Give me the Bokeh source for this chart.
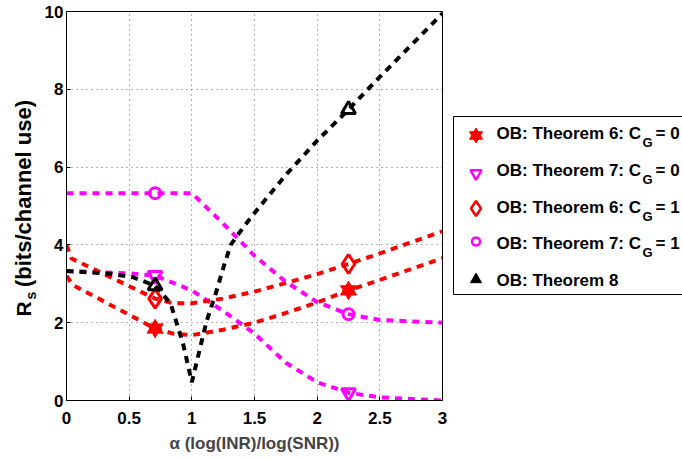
import math
from bokeh.plotting import figure
from bokeh.layouts import row
from bokeh.models import Range1d, FixedTicker
from bokeh.core.properties import value
from bokeh.embed import file_html
from bokeh.resources import INLINE

# ---------------- data ----------------
x_ticks = [0, 0.5, 1, 1.5, 2, 2.5, 3]
x_tick_labels = ["0", "0.5", "1", "1.5", "2", "2.5", "3"]
y_ticks = [0, 2, 4, 6, 8, 10]
y_tick_labels = ["0", "2", "4", "6", "8", "10"]

# OB: Theorem 6, C_G = 0
x6_0 = [0, 0.05, 0.707, 0.85, 1.0, 1.25, 1.5, 1.75, 2.0, 2.25, 2.5, 3.0]
y6_0 = [3.2, 2.97, 1.85, 1.72, 1.68, 1.82, 2.0, 2.25, 2.52, 2.83, 3.1, 3.66]
m6_0_x = [0.707, 2.25]
m6_0_y = [1.85, 2.83]

# OB: Theorem 7, C_G = 0
x7_0 = [0, 0.5, 0.707, 1.0, 1.25, 1.5, 1.75, 2.0, 2.25, 2.5, 3.0]
y7_0 = [3.33, 3.27, 3.21, 2.83, 2.3, 1.72, 0.97, 0.47, 0.2, 0.08, 0.0]
m7_0_x = [0.707, 2.25]
m7_0_y = [3.21, 0.2]

# OB: Theorem 6, C_G = 1
x6_1 = [0, 0.04, 0.707, 0.85, 1.0, 1.25, 1.5, 1.75, 2.0, 2.25, 2.5, 3.0]
y6_1 = [4.0, 3.65, 2.62, 2.5, 2.5, 2.62, 2.8, 3.02, 3.25, 3.51, 3.78, 4.35]
m6_1_x = [0.707, 2.25]
m6_1_y = [2.62, 3.51]

# OB: Theorem 7, C_G = 1
x7_1 = [0, 0.707, 1.0, 1.25, 1.5, 1.75, 2.0, 2.25, 2.5, 3.0]
y7_1 = [5.33, 5.33, 5.33, 4.55, 3.72, 3.05, 2.53, 2.22, 2.07, 2.0]
m7_1_x = [0.707, 2.25]
m7_1_y = [5.33, 2.22]

# OB: Theorem 8
x8 = [0, 0.35, 0.53, 0.707, 0.83, 0.93, 1.0, 1.07, 1.12, 1.19, 1.25, 1.31, 1.41, 1.5, 1.75, 2.0, 2.25, 2.5, 3.0]
y8 = [3.33, 3.26, 3.17, 2.95, 2.5, 1.46, 0.47, 1.41, 2.06, 2.74, 3.4, 4.0, 4.45, 4.82, 5.8, 6.68, 7.48, 8.32, 9.95]
m8_x = [0.707, 2.25]
m8_y = [2.95, 7.48]

legend_main = ["OB: Theorem 6: C", "OB: Theorem 7: C", "OB: Theorem 6: C", "OB: Theorem 7: C", "OB: Theorem 8"]
legend_sub = ["G", "G", "G", "G", ""]
legend_tail = ["= 0", "= 0", "= 1", "= 1", ""]

ylabel_parts = ["R", "s", "(bits/channel use)"]

FONT = "Liberation Sans"
RED = "#FF0000"
MAG = "#FF00FF"
BLK = "#000000"
DASH = "7 6"
LW = 4
H = 459
FTOP, FBOT = 11, 400   # frame top / bottom in page pixels (rows align plot frames)

# ---------------- y-label strip (pixel coordinates, y downward) ----------------
yl = figure(width=40, height=H, output_backend="svg", toolbar_location=None,
            x_range=Range1d(0, 40), y_range=Range1d(FBOT, FTOP),
            min_border=0, min_border_left=0, min_border_right=0, min_border_top=FTOP, min_border_bottom=H - FBOT)
yl.axis.visible = False
yl.grid.visible = False
yl.outline_line_color = None
yl.text(x=[22.5], y=[308.5], text=[ylabel_parts[0]], angle=math.pi / 2, text_font=value(FONT),
        text_font_style="bold", text_font_size="21px", text_align="center", text_baseline="middle",
        text_color="black")
yl.text(x=[30.5], y=[295], text=[ylabel_parts[1]], angle=math.pi / 2, text_font=value(FONT),
        text_font_style="bold", text_font_size="14px", text_align="center", text_baseline="middle",
        text_color="black")
yl.text(x=[23], y=[193], text=[ylabel_parts[2]], angle=math.pi / 2, text_font=value(FONT),
        text_font_style="bold", text_font_size="22px", text_align="center", text_baseline="middle",
        text_color="black")

# ---------------- main plot ----------------
p = figure(width=408, height=H, output_backend="svg", toolbar_location=None,
           x_range=Range1d(0, 3), y_range=Range1d(0, 10),
           min_border_left=26, min_border_right=6, min_border_top=FTOP, min_border_bottom=H - FBOT)
p.background_fill_color = "white"
p.outline_line_color = "black"
p.outline_line_width = 1

p.xaxis.ticker = FixedTicker(ticks=x_ticks)
p.yaxis.ticker = FixedTicker(ticks=y_ticks)
p.xaxis.major_label_overrides = {t: l for t, l in zip(x_ticks, x_tick_labels)}
p.yaxis.major_label_overrides = {t: l for t, l in zip(y_ticks, y_tick_labels)}
for ax in (p.xaxis[0], p.yaxis[0]):
    ax.axis_line_color = "black"
    ax.major_tick_in = 4
    ax.major_tick_out = 0
    ax.minor_tick_line_color = None
    ax.major_label_text_font = FONT
    ax.major_label_text_font_style = "bold"
    ax.major_label_text_font_size = "17px"
    ax.major_label_text_color = "black"
p.xaxis.major_label_standoff = 11
p.yaxis.major_label_standoff = 3
p.xaxis.axis_label = "\u03b1 (log(INR)/log(SNR))"
p.xaxis.axis_label_text_font = FONT
p.xaxis.axis_label_text_font_style = "bold"
p.xaxis.axis_label_text_font_size = "17px"
p.xaxis.axis_label_standoff = 7

for g in (p.xgrid[0], p.ygrid[0]):
    g.grid_line_color = "#666666"
    g.grid_line_dash = "1 4"
    g.grid_line_width = 1
p.ygrid.ticker = FixedTicker(ticks=y_ticks)
p.xgrid.ticker = FixedTicker(ticks=x_ticks)

# lines
p.line(x6_0, y6_0, line_color=RED, line_width=LW, line_dash=DASH)
p.line(x7_0, y7_0, line_color=MAG, line_width=LW, line_dash=DASH)
p.line(x6_1, y6_1, line_color=RED, line_width=LW, line_dash=DASH)
p.line(x7_1, y7_1, line_color=MAG, line_width=LW, line_dash=DASH)
p.line(x8, y8, line_color=BLK, line_width=LW, line_dash=DASH)

# markers
p.scatter(m6_0_x, m6_0_y, marker="triangle", size=16, fill_color=RED, line_color=RED, line_width=1)
p.scatter(m6_0_x, m6_0_y, marker="inverted_triangle", size=16, fill_color=RED, line_color=RED, line_width=1)
p.scatter(m7_0_x, m7_0_y, marker="inverted_triangle", size=14, fill_color=None, line_color=MAG, line_width=3)
p.scatter(m6_1_x, m6_1_y, marker="diamond", size=19, fill_color=None, line_color=RED, line_width=3)
p.scatter(m7_1_x, m7_1_y, marker="circle", size=11, fill_color=None, line_color=MAG, line_width=3)
p.scatter(m8_x, m8_y, marker="triangle", size=14, fill_color=None, line_color=BLK, line_width=3)

# ---------------- legend panel (pixel coordinates, y downward) ----------------
lg = figure(width=234, height=H, output_backend="svg", toolbar_location=None,
            x_range=Range1d(0, 234), y_range=Range1d(FBOT, FTOP),
            min_border=0, min_border_left=0, min_border_right=0, min_border_top=FTOP, min_border_bottom=H - FBOT)
lg.axis.visible = False
lg.grid.visible = False
lg.outline_line_color = None

lg.quad(left=[5], right=[300], top=[116], bottom=[294], fill_color="white", line_color="black", line_width=1)

mk_x = [27.5] * 5
mk_y = [135, 173, 208, 241, 279]
lg.scatter([mk_x[0]], [mk_y[0]], marker="triangle", size=13, fill_color=RED, line_color=RED)
lg.scatter([mk_x[0]], [mk_y[0]], marker="inverted_triangle", size=13, fill_color=RED, line_color=RED)
lg.scatter([mk_x[1]], [mk_y[1]], marker="inverted_triangle", size=11, fill_color=None, line_color=MAG, line_width=2.5)
lg.scatter([mk_x[2]], [mk_y[2]], marker="diamond", size=15, fill_color=None, line_color=RED, line_width=2.5)
lg.scatter([mk_x[3]], [mk_y[3]], marker="circle", size=8, fill_color=None, line_color=MAG, line_width=2.5)
lg.scatter([mk_x[4]], [mk_y[4]], marker="triangle", size=11, fill_color=BLK, line_color=BLK, line_width=1)

tx_y = [133, 170, 207, 243, 280]
lg.text(x=[48] * 5, y=tx_y, text=legend_main, text_font=value(FONT), text_font_style="bold",
        text_font_size="17px", text_baseline="middle", text_align="left", text_color="black")
lg.text(x=[194] * 4, y=[v + 9 for v in tx_y[:4]], text=legend_sub[:4], text_font=value(FONT),
        text_font_style="bold", text_font_size="13px", text_baseline="middle", text_align="left",
        text_color="black")
lg.text(x=[207] * 4, y=tx_y[:4], text=legend_tail[:4], text_font=value(FONT), text_font_style="bold",
        text_font_size="17px", text_baseline="middle", text_align="left", text_color="black")

layout = row(yl, p, lg)
open("out.html", "w").write(file_html(layout, INLINE))
